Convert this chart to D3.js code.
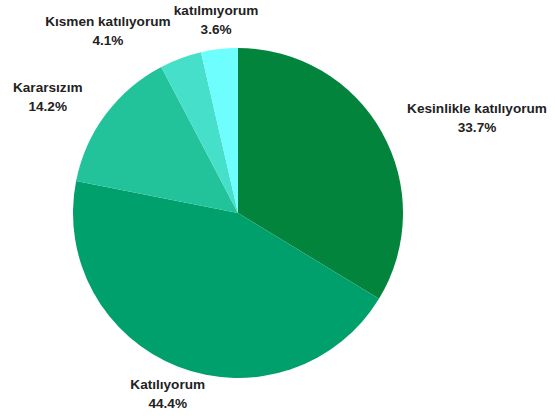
<!DOCTYPE html>
<html lang="tr">
<head>
<meta charset="utf-8">
<style>
  body { margin: 0; background: #fff; }
  svg { font-family: "Liberation Sans", Arial, sans-serif; }
  .lbl { font-size: 13.6px; font-weight: bold; fill: #222; }
</style>
</head>
<body>
<svg id="chart" width="555" height="419"></svg>
<script src="https://cdn.jsdelivr.net/npm/d3@7"></script>
<script>
const categories = ["Kesinlikle katılıyorum", "Katılıyorum", "Kararsızım", "Kısmen katılıyorum", "katılmıyorum"];
const values = [33.7, 44.4, 14.2, 4.1, 3.6];
const colors = ["#03843c", "#00a06c", "#22c39b", "#46dfc9", "#6efefe"];

const width = 555, height = 419;
const cx = 238, cy = 213, radius = 165, labelR = 194;

const svg = d3.select("#chart");
const g = svg.append("g").attr("transform", `translate(${cx},${cy})`);

const data = categories.map((c, i) => ({ name: c, value: values[i], color: colors[i] }));

const pie = d3.pie().sort(null).value(d => d.value);
const arc = d3.arc().innerRadius(0).outerRadius(radius);
const arcs = pie(data);

g.selectAll("path.slice")
  .data(arcs)
  .join("path")
  .attr("class", "slice")
  .attr("d", arc)
  .attr("fill", d => d.data.color);

// labels: two centred lines, block vertically centred on a point outside the pie
const labels = g.selectAll("g.label")
  .data(arcs)
  .join("g")
  .attr("class", "label");

labels.each(function(d) {
  const a = (d.startAngle + d.endAngle) / 2;
  d.dx = Math.sin(a);
  d.dy = -Math.cos(a);
  d.px = d.dx * labelR;
  d.py = d.dy * labelR;
  const t = d3.select(this).append("text").attr("class", "lbl").attr("text-anchor", "middle");
  t.append("tspan").attr("x", 0).attr("y", -5).text(d.data.name);
  t.append("tspan").attr("x", 0).attr("y", 14).text(d3.format(".1f")(d.data.value) + "%");
  d.w = this.getBBox().width;
});

// shift: 0 = centred on point, +1 = left edge on point, -1 = right edge on point
function place(sel, d, shift) {
  d.ox = d.px + shift * d.w / 2;
  sel.attr("transform", `translate(${d.ox},${d.py})`);
}
function box(sel) {
  const b = sel.node().getBBox();
  const d = sel.datum();
  return { x0: d.ox + b.x, x1: d.ox + b.x + b.width, y0: d.py + b.y, y1: d.py + b.y + b.height };
}
function overlap(a, b) {
  return a.x0 < b.x1 && b.x0 < a.x1 && a.y0 < b.y1 && b.y0 < a.y1;
}

// place from last slice to first; push a label to the side if it hits one already placed
const placed = [];
labels.nodes().slice().reverse().forEach(node => {
  const sel = d3.select(node);
  const d = sel.datum();
  const side = d.dx > 0 ? 1 : -1;
  place(sel, d, Math.abs(d.dx) < 0.4 ? 0 : side);
  let b = box(sel);
  if (placed.some(p => overlap(p, b))) {
    place(sel, d, side);
    b = box(sel);
  }
  placed.push(b);
});
</script>
</body>
</html>
